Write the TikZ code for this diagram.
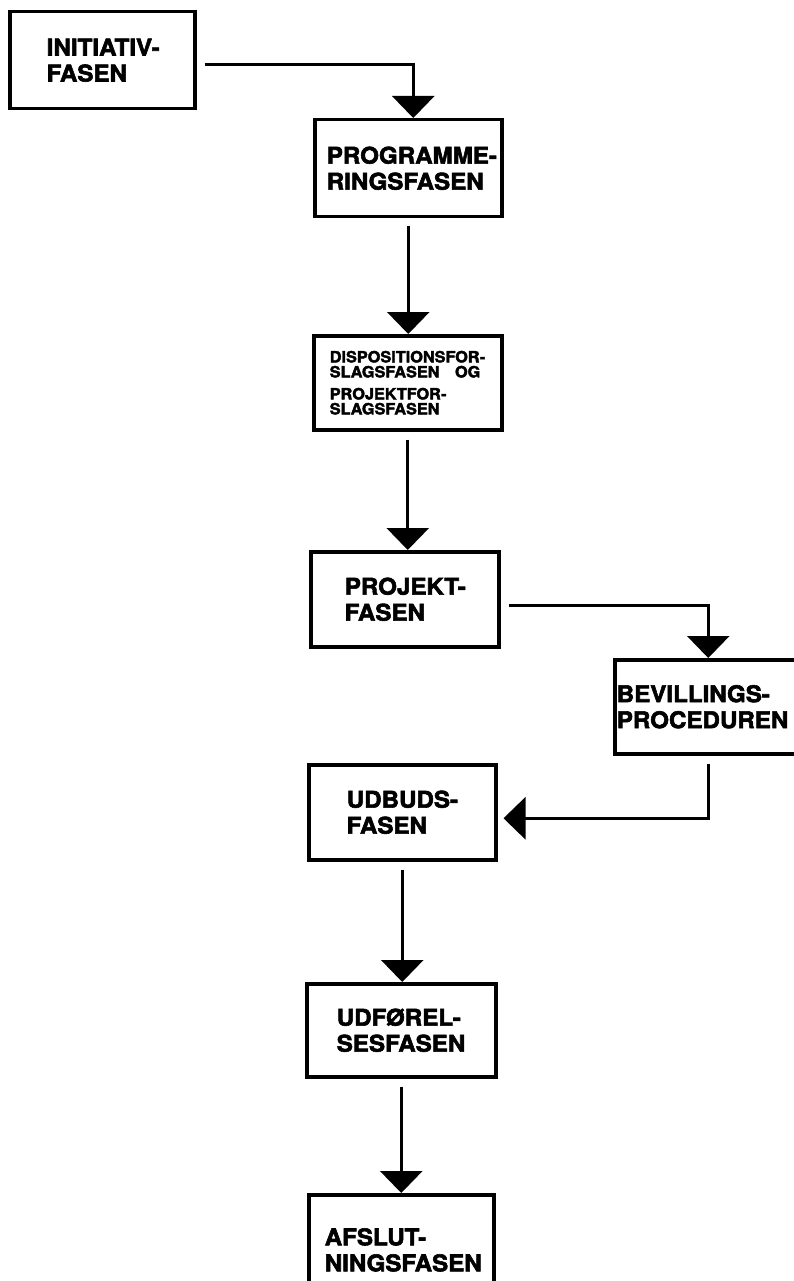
\documentclass[tikz,border=0pt]{standalone}
\usepackage{fontspec}
\newfontfamily\fasefont{TeX Gyre Heros}[FakeStretch=1.05,BoldFeatures={FakeBold=2.5}]
\usetikzlibrary{arrows.meta}
\hfuzz=60pt
\exhyphenpenalty=10000
\tikzset{
  fase/.style={draw, line width=3.5pt, anchor=north west, align=left, inner ysep=0pt,
    font=\fasefont\bfseries\fontsize{23pt}{26pt}\selectfont},
  lille/.style={font=\fasefont\bfseries\fontsize{15.5pt}{15pt}\selectfont},
  pil/.style={line width=3pt, -{Triangle[width=42pt,length=22pt]}, shorten <=8pt}
}
\begin{document}
\begin{tikzpicture}[x=1pt,y=-1pt]
        \useasboundingbox (0,0) rectangle (794,1281);
        %Faserne
        \node[fase, minimum width=185pt, minimum height=97pt, inner xsep=37pt, text width=111pt] (initiativ) at (8,10) {INITIATIV-\\FASEN};
        \node[fase, minimum width=187pt, minimum height=97pt, inner xsep=12pt, text width=163pt] (program) at (313,118) {PROGRAMME-\\RINGSFASEN};
        \node[fase, lille, minimum width=188pt, minimum height=94pt, inner xsep=16pt, text width=156pt] (dispos) at (312,334) {DISPOSITIONSFOR-\\SLAGSFASEN\quad OG\\[7pt]PROJEKTFOR-\\SLAGSFASEN};
        \node[fase, minimum width=188pt, minimum height=95pt, inner xsep=34pt, text width=120pt] (projekt) at (309,550) {PROJEKT-\\FASEN};
        \node[fase, minimum width=187pt, minimum height=94pt, inner xsep=2pt, text width=183pt] (bevilling) at (613,658) {BEVILLINGS-\\PROCEDUREN};
        \node[fase, minimum width=187pt, minimum height=95pt, inner xsep=38pt, text width=111pt] (udbud) at (307,763) {UDBUDS-\\FASEN};
        \node[fase, minimum width=189pt, minimum height=93pt, inner xsep=30pt, text width=129pt] (udfor) at (305,982) {UDFØREL-\\SESFASEN};
        \node[fase, minimum width=185pt, minimum height=110pt, inner xsep=16pt, text width=153pt, text depth=26pt] (afslut) at (307,1193) {AFSLUT-\\NINGSFASEN};
        %Pile
        \draw[pil] ([yshift=-4pt]initiativ.east) -| ([xshift=5pt]program.north);
        \draw[pil] (program.south) -- (program.south |- dispos.north);
        \draw[pil] (dispos.south) -- (dispos.south |- projekt.north);
        \draw[pil] ([yshift=-6pt]projekt.east) -| (bevilling.north);
        \draw[pil, shorten >=6pt] (bevilling.south) |- ([yshift=-6pt]udbud.east);
        \draw[pil] (udbud.south) -- (udbud.south |- udfor.north);
        \draw[pil] (udfor.south) -- (udfor.south |- afslut.north);
\end{tikzpicture}
\end{document}
